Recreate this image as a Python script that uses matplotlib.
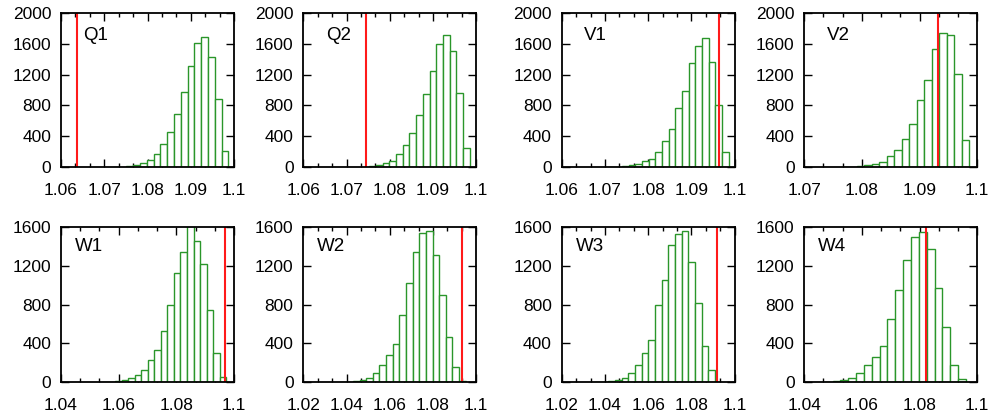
import matplotlib
matplotlib.use("Agg")
import matplotlib.pyplot as plt
from matplotlib.ticker import AutoMinorLocator, FuncFormatter
import numpy as np

plt.rcParams["font.family"] = ["Liberation Sans", "DejaVu Sans"]

# panel names, in reading order
names = ["Q1", "Q2", "V1", "V2", "W1", "W2", "W3", "W4"]

# histogram counts (left to right)
q1_counts = [2, 5, 12, 30, 55, 95, 175, 305, 455, 695, 975, 1315, 1610, 1690, 1430, 890, 215]
q2_counts = [3, 13, 30, 52, 82, 172, 287, 440, 672, 950, 1245, 1590, 1715, 1505, 955, 245]
v1_counts = [4, 9, 17, 26, 39, 85, 112, 194, 335, 491, 763, 985, 1355, 1575, 1678, 1360, 800, 197]
v2_counts = [4, 9, 15, 27, 45, 72, 143, 218, 368, 556, 872, 1135, 1528, 1738, 1717, 1212, 349]
w1_counts = [3, 7, 16, 26, 40, 76, 130, 232, 333, 525, 795, 1125, 1345, 1610, 1452, 1215, 740, 298, 55]
w2_counts = [3, 8, 15, 24, 40, 92, 176, 282, 396, 697, 1020, 1343, 1535, 1555, 1313, 893, 469, 161, 10]
w3_counts = [3, 7, 15, 20, 45, 100, 182, 302, 436, 792, 1052, 1415, 1525, 1552, 1233, 816, 372, 122, 8]
w4_counts = [7, 15, 22, 40, 91, 181, 256, 378, 652, 945, 1257, 1495, 1544, 1369, 973, 571, 181, 32]
all_counts = [q1_counts, q2_counts, v1_counts, v2_counts,
              w1_counts, w2_counts, w3_counts, w4_counts]

# left edge of first bin and bin width per panel
bin_starts = [1.0720, 1.0737, 1.0709, 1.0765, 1.0542, 1.0368, 1.0353, 1.0471]
bin_widths = [0.00157, 0.00155, 0.00154, 0.00130, 0.00227, 0.00307, 0.00309, 0.00272]

# red reference line per panel
ref_values = [1.0636, 1.0745, 1.0964, 1.0932, 1.0970, 1.0933, 1.0920, 1.0821]

x_ranges = [(1.06, 1.1), (1.06, 1.1), (1.06, 1.1), (1.07, 1.1),
            (1.04, 1.1), (1.02, 1.1), (1.02, 1.1), (1.04, 1.1)]
x_steps = [0.01, 0.01, 0.01, 0.01, 0.02, 0.02, 0.02, 0.02]
y_tops = [2000, 2000, 2000, 2000, 1600, 1600, 1600, 1600]
y_step = 400

fig = plt.figure(figsize=(9.95, 4.17), dpi=100)
fig.patch.set_facecolor("white")

col_left = [0.0613, 0.3048, 0.5645, 0.8083]
col_w = 0.1739
row_bottom = [0.5988, 0.0832]
row_h = [0.3707, 0.3731]
label_x = [0.13, 0.08]
label_y = [0.85, 0.87]

green = "#2a962a"

for i, name in enumerate(names):
    r, c = divmod(i, 4)
    ax = fig.add_axes([col_left[c], row_bottom[r], col_w, row_h[r]])
    counts = np.array(all_counts[i])
    edges = bin_starts[i] + bin_widths[i] * np.arange(len(counts))
    ax.bar(edges, counts, width=bin_widths[i], align="edge",
           facecolor="white", edgecolor=green, linewidth=1.0, zorder=2)
    ax.axvline(ref_values[i], color="#ff1a1a", linewidth=1.5, zorder=3)

    lo, hi = x_ranges[i]
    ax.set_xlim(lo, hi)
    ax.set_ylim(0, y_tops[i])
    ax.set_xticks(np.round(np.arange(lo, hi + x_steps[i] / 2, x_steps[i]), 4))
    ax.set_yticks(np.arange(0, y_tops[i] + 1, y_step))
    ax.xaxis.set_minor_locator(AutoMinorLocator(3))
    ax.xaxis.set_major_formatter(FuncFormatter(lambda v, p: f"{v:g}"))

    ax.tick_params(which="both", direction="in", top=True, right=True,
                   width=1.0, color="black", labelsize=12.5)
    ax.tick_params(which="major", length=6)
    ax.tick_params(which="minor", length=3)
    ax.tick_params(axis="y", pad=7)
    ax.tick_params(axis="x", pad=11)
    for s in ax.spines.values():
        s.set_linewidth(1.3)
        s.set_zorder(4)

    ax.text(label_x[r], label_y[r], name, transform=ax.transAxes,
            fontsize=13.5, ha="left", va="center", zorder=5)

fig.savefig("out.png", dpi=100, facecolor="white")
